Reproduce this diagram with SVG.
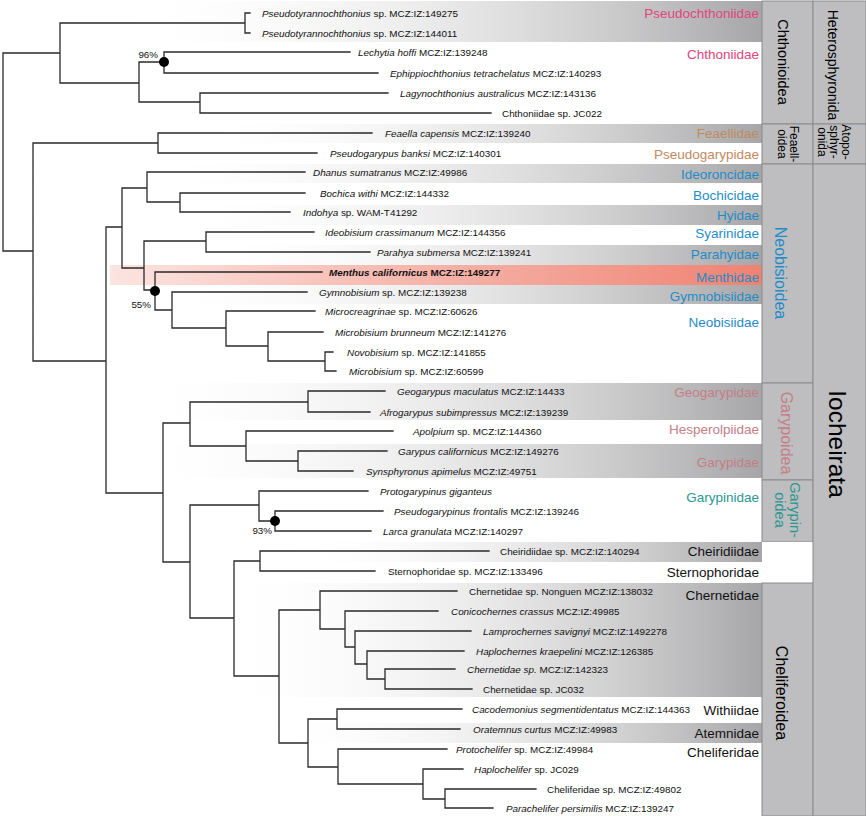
<svg xmlns="http://www.w3.org/2000/svg" width="866" height="816" viewBox="0 0 866 816">
<defs>
<linearGradient id="gg" x1="0" y1="0" x2="1" y2="0">
<stop offset="0" stop-color="#ffffff" stop-opacity="0"/>
<stop offset="1" stop-color="#a6a6a8"/>
</linearGradient>
<linearGradient id="gr" x1="0" y1="0" x2="1" y2="0">
<stop offset="0" stop-color="#fce4e0"/>
<stop offset="1" stop-color="#ef8272"/>
</linearGradient>
<style>
text{font-family:"Liberation Sans",Arial,Helvetica,sans-serif;}
.lf{font-size:9.9px;fill:#111;}
.i{font-style:italic;}
.fam{font-size:13.5px;text-anchor:end;}
.pk{fill:#e3447c;}
.br{fill:#c28a5e;}
.bl{fill:#1f8cc8;}
.rs{fill:#c57d86;}
.tl{fill:#2b9792;}
.bk{fill:#111;}
.col{fill:#bebec0;stroke:#8a8a8c;stroke-width:1;}
.sup{text-anchor:middle;}
.tree{stroke:#2a2a2a;stroke-width:1.3;fill:none;stroke-linecap:square;}
.pct{font-size:9.8px;text-anchor:end;fill:#111;}
</style>
</defs>
<rect width="866" height="816" fill="#ffffff"/>

<g id="bands">
<rect x="123" y="1" width="639" height="41" fill="url(#gg)"/>
<rect x="190" y="124" width="572" height="19" fill="url(#gg)"/>
<rect x="143" y="164" width="619" height="19" fill="url(#gg)"/>
<rect x="177" y="205" width="585" height="20" fill="url(#gg)"/>
<rect x="200" y="245" width="562" height="20" fill="url(#gg)"/>
<rect x="110" y="265" width="652" height="20" fill="url(#gr)"/>
<rect x="150" y="285" width="612" height="19" fill="url(#gg)"/>
<rect x="125" y="383" width="637" height="37" fill="url(#gg)"/>
<rect x="125" y="444" width="637" height="34" fill="url(#gg)"/>
<rect x="290" y="542" width="472" height="20" fill="url(#gg)"/>
<rect x="215" y="583" width="547" height="114" fill="url(#gg)"/>
<rect x="265" y="723" width="497" height="20" fill="url(#gg)"/>
</g>

<g id="columns">
<rect class="col" x="762" y="1" width="51" height="123"/>
<rect class="col" x="762" y="124" width="51" height="40"/>
<rect class="col" x="762" y="164" width="51" height="219"/>
<rect class="col" x="762" y="383" width="51" height="97"/>
<rect class="col" x="762" y="480" width="51" height="62"/>
<rect x="762" y="542" width="51" height="41" fill="#ffffff"/>
<rect class="col" x="762" y="583" width="51" height="233"/>
<rect class="col" x="813" y="1" width="53" height="123"/>
<rect class="col" x="813" y="124" width="53" height="40"/>
<rect class="col" x="813" y="164" width="53" height="652"/>
</g>

<g id="superfamilies">
<g id="chthonioidea"><text class="sup" font-size="14.5" transform="translate(778,62) rotate(90)">Chthonioidea</text></g>
<g id="feaelloidea"><text class="sup" font-size="12" transform="translate(789.5,144) rotate(90)">Feaell-</text><text class="sup" font-size="12" transform="translate(778,144) rotate(90)">oidea</text></g>
<g id="neobisioidea"><text class="sup bl" font-size="16" transform="translate(775,273) rotate(90)">Neobisioidea</text></g>
<g id="garypoidea"><text class="sup rs" font-size="16" transform="translate(781,433) rotate(90)">Garypoidea</text></g>
<g id="garypinoidea"><text class="sup tl" font-size="14.5" transform="translate(790,510) rotate(90)">Garypin-</text><text class="sup tl" font-size="14.5" transform="translate(775,510) rotate(90)">oidea</text></g>
<g id="cheliferoidea"><text class="sup" font-size="16" transform="translate(776,693) rotate(90)">Cheliferoidea</text></g>
<g id="heterosphyronida"><text class="sup" font-size="14" transform="translate(828,65) rotate(90)">Heterosphyronida</text></g>
<g id="atoposphyronida"><text class="sup" font-size="12" transform="translate(842,142) rotate(90)">Atopo-</text><text class="sup" font-size="12" transform="translate(830,142) rotate(90)">sphyr-</text><text class="sup" font-size="12" transform="translate(818,142) rotate(90)">onida</text></g>
<g id="iocheirata"><text class="sup" font-size="24.5" transform="translate(829,444) rotate(90)">Iocheirata</text></g>
</g>

<g id="families">
<text id="f-pseudochthoniidae" class="fam pk" x="759" y="18">Pseudochthoniidae</text>
<text id="f-chthoniidae" class="fam pk" x="759" y="59">Chthoniidae</text>
<text id="f-feaellidae" class="fam br" x="759" y="138">Feaellidae</text>
<text id="f-pseudogarypidae" class="fam br" x="759" y="159">Pseudogarypidae</text>
<text id="f-ideoroncidae" class="fam bl" x="759" y="179">Ideoroncidae</text>
<text id="f-bochicidae" class="fam bl" x="759" y="200">Bochicidae</text>
<text id="f-hyidae" class="fam bl" x="759" y="220">Hyidae</text>
<text id="f-syarinidae" class="fam bl" x="759" y="238">Syarinidae</text>
<text id="f-parahyidae" class="fam bl" x="759" y="259">Parahyidae</text>
<text id="f-menthidae" class="fam bl" x="759" y="282">Menthidae</text>
<text id="f-gymnobisiidae" class="fam bl" x="759" y="301">Gymnobisiidae</text>
<text id="f-neobisiidae" class="fam bl" x="759" y="327">Neobisiidae</text>
<text id="f-geogarypidae" class="fam rs" x="759" y="397">Geogarypidae</text>
<text id="f-hesperolpiidae" class="fam rs" x="759" y="434">Hesperolpiidae</text>
<text id="f-garypidae" class="fam rs" x="759" y="467">Garypidae</text>
<text id="f-garypinidae" class="fam tl" x="759" y="502">Garypinidae</text>
<text id="f-cheiridiidae" class="fam bk" x="759" y="556">Cheiridiidae</text>
<text id="f-sternophoridae" class="fam bk" x="759" y="577">Sternophoridae</text>
<text id="f-chernetidae" class="fam bk" x="759" y="600">Chernetidae</text>
<text id="f-withiidae" class="fam bk" x="759" y="715">Withiidae</text>
<text id="f-atemnidae" class="fam bk" x="759" y="738">Atemnidae</text>
<text id="f-cheliferidae" class="fam bk" x="759" y="757">Cheliferidae</text>
</g>

<g id="connectors">
<path class="tree" d="M3 53V251M3 53H60M3 251H33
M60 23V83M60 23H245M60 83H139
M245 13V33M245 13H250M245 33H250
M139 62V102M139 62H164M139 102H200
M164 52V73M164 52H350M164 73H378
M200 93V113M200 93H388M200 113H491
M33 143V361M33 143H158M33 361H106
M158 133V153M158 133H372M158 153H317
M106 227V493M106 227H122M106 493H163
M122 188V268M122 188H147M122 268H144
M147 172V202M147 172H305M147 202H180
M180 193V212M180 193H305M180 212H290
M144 241V290M144 241H206M144 290H155
M206 232V252M206 232H314M206 252H370
M155 272V310M155 272H322M155 310H172
M172 292V328M172 292H307M172 328H226
M226 311V346M226 311H315M226 346H268
M268 332V361M268 332H323M268 361H325
M325 352V371M325 352H333M325 371H336
M163 423V562M163 423H190M163 562H190
M190 402V446M190 402H308M190 446H246
M308 391V412M308 391H385M308 412H370
M246 431V461M246 431H393M246 461H298
M298 451V471M298 451H387M298 471H353
M190 505V618M190 505H259M190 618H234
M259 491V521M259 491H368M259 521H275
M275 511V531M275 511H383M275 531H371
M234 561V676M234 561H260M234 676H279
M260 551V571M260 551H489M260 571H375
M279 610V743M279 610H320M279 743H308
M320 591V629M320 591H457M320 629H345
M345 611V647M345 611H438M345 647H355
M355 631V664M355 631H471M355 664H367
M367 651V679M367 651H464M367 679H385
M385 669V689M385 669H455M385 689H472
M308 719V767M308 719H337M308 767H338
M337 709V729M337 709H462M337 729H460
M338 749V784M338 749H447M338 784H423
M423 769V799M423 769H463M423 799H445
M445 789V808M445 789H536M445 808H493"/>
<circle cx="164" cy="62" r="5" fill="#000"/>
<circle cx="155" cy="291" r="5" fill="#000"/>
<circle cx="275" cy="521" r="5" fill="#000"/>
<text class="pct" x="158" y="58">96%</text>
<text class="pct" x="151" y="308">55%</text>
<text class="pct" x="272" y="534">93%</text>
</g>

<g id="leaves" class="lf">
<g id="t1"><text class="lf" x="262" y="16.5"><tspan class="i">Pseudotyrannochthonius</tspan> sp. MCZ:IZ:149275</text></g>
<g id="t2"><text class="lf" x="262" y="36.5"><tspan class="i">Pseudotyrannochthonius</tspan> sp. MCZ:IZ:144011</text></g>
<g id="t3"><text class="lf" x="358" y="55.5"><tspan class="i">Lechytia hoffi</tspan> MCZ:IZ:139248</text></g>
<g id="t4"><text class="lf" x="390" y="76.5"><tspan class="i">Ephippiochthonius tetrachelatus</tspan> MCZ:IZ:140293</text></g>
<g id="t5"><text class="lf" x="400" y="96.5"><tspan class="i">Lagynochthonius australicus</tspan> MCZ:IZ:143136</text></g>
<g id="t6"><text class="lf" x="502" y="116.5">Chthoniidae sp. JC022</text></g>
<g id="t7"><text class="lf" x="385" y="136.5"><tspan class="i">Feaella capensis</tspan> MCZ:IZ:139240</text></g>
<g id="t8"><text class="lf" x="330" y="156.5"><tspan class="i">Pseudogarypus banksi</tspan> MCZ:IZ:140301</text></g>
<g id="t9"><text class="lf" x="313" y="175.5"><tspan class="i">Dhanus sumatranus</tspan> MCZ:IZ:49986</text></g>
<g id="t10"><text class="lf" x="320" y="196.5"><tspan class="i">Bochica withi</tspan> MCZ:IZ:144332</text></g>
<g id="t11"><text class="lf" x="303" y="215.5"><tspan class="i">Indohya</tspan> sp. WAM-T41292</text></g>
<g id="t12"><text class="lf" x="325" y="235.5"><tspan class="i">Ideobisium crassimanum</tspan> MCZ:IZ:144356</text></g>
<g id="t13"><text class="lf" x="377" y="255.5"><tspan class="i">Parahya submersa</tspan> MCZ:IZ:139241</text></g>
<g id="t14"><text class="lf" x="329" y="275.5" font-weight="bold"><tspan class="i">Menthus californicus</tspan> MCZ:IZ:149277</text></g>
<g id="t15"><text class="lf" x="319" y="295.5"><tspan class="i">Gymnobisium</tspan> sp. MCZ:IZ:139238</text></g>
<g id="t16"><text class="lf" x="325" y="314.5"><tspan class="i">Microcreagrinae</tspan> sp. MCZ:IZ:60626</text></g>
<g id="t17"><text class="lf" x="335" y="335.5"><tspan class="i">Microbisium brunneum</tspan> MCZ:IZ:141276</text></g>
<g id="t18"><text class="lf" x="347" y="355.5"><tspan class="i">Novobisium</tspan> sp. MCZ:IZ:141855</text></g>
<g id="t19"><text class="lf" x="349" y="374.5"><tspan class="i">Microbisium</tspan> sp. MCZ:IZ:60599</text></g>
<g id="t20"><text class="lf" x="397" y="394.5"><tspan class="i">Geogarypus maculatus</tspan> MCZ:IZ:14433</text></g>
<g id="t21"><text class="lf" x="380" y="415.5"><tspan class="i">Afrogarypus subimpressus</tspan> MCZ:IZ:139239</text></g>
<g id="t22"><text class="lf" x="413" y="434.5"><tspan class="i">Apolpium</tspan> sp. MCZ:IZ:144360</text></g>
<g id="t23"><text class="lf" x="398" y="454.5"><tspan class="i">Garypus californicus</tspan> MCZ:IZ:149276</text></g>
<g id="t24"><text class="lf" x="366" y="474.5"><tspan class="i">Synsphyronus apimelus</tspan> MCZ:IZ:49751</text></g>
<g id="t25"><text class="lf" x="380" y="494.5"><tspan class="i">Protogarypinus giganteus</tspan></text></g>
<g id="t26"><text class="lf" x="394" y="514.5"><tspan class="i">Pseudogarypinus frontalis</tspan> MCZ:IZ:139246</text></g>
<g id="t27"><text class="lf" x="383" y="534.5"><tspan class="i">Larca granulata</tspan> MCZ:IZ:140297</text></g>
<g id="t28"><text class="lf" x="500" y="554.5">Cheiridiidae sp. MCZ:IZ:140294</text></g>
<g id="t29"><text class="lf" x="388" y="574.5">Sternophoridae sp. MCZ:IZ:133496</text></g>
<g id="t30"><text class="lf" x="469" y="594.5">Chernetidae sp. Nonguen MCZ:IZ:138032</text></g>
<g id="t31"><text class="lf" x="451" y="614.5"><tspan class="i">Conicochernes crassus</tspan> MCZ:IZ:49985</text></g>
<g id="t32"><text class="lf" x="483" y="634.5"><tspan class="i">Lamprochernes savignyi</tspan> MCZ:IZ:1492278</text></g>
<g id="t33"><text class="lf" x="476" y="654.5"><tspan class="i">Haplochernes kraepelini</tspan> MCZ:IZ:126385</text></g>
<g id="t34"><text class="lf" x="467" y="672.5"><tspan class="i">Chernetidae sp.</tspan> MCZ:IZ:142323</text></g>
<g id="t35"><text class="lf" x="483" y="692.5">Chernetidae sp. JC032</text></g>
<g id="t36"><text class="lf" x="472" y="712.5"><tspan class="i">Cacodemonius segmentidentatus</tspan> MCZ:IZ:144363</text></g>
<g id="t37"><text class="lf" x="473" y="732.5"><tspan class="i">Oratemnus curtus</tspan> MCZ:IZ:49983</text></g>
<g id="t38"><text class="lf" x="456" y="752.5"><tspan class="i">Protochelifer</tspan> sp. MCZ:IZ:49984</text></g>
<g id="t39"><text class="lf" x="474" y="772.5"><tspan class="i">Haplochelifer</tspan> sp. JC029</text></g>
<g id="t40"><text class="lf" x="547" y="792.5">Cheliferidae sp. MCZ:IZ:49802</text></g>
<g id="t41"><text class="lf" x="506" y="811.5"><tspan class="i">Parachelifer persimilis</tspan> MCZ:IZ:139247</text></g>
</g>
</svg>
